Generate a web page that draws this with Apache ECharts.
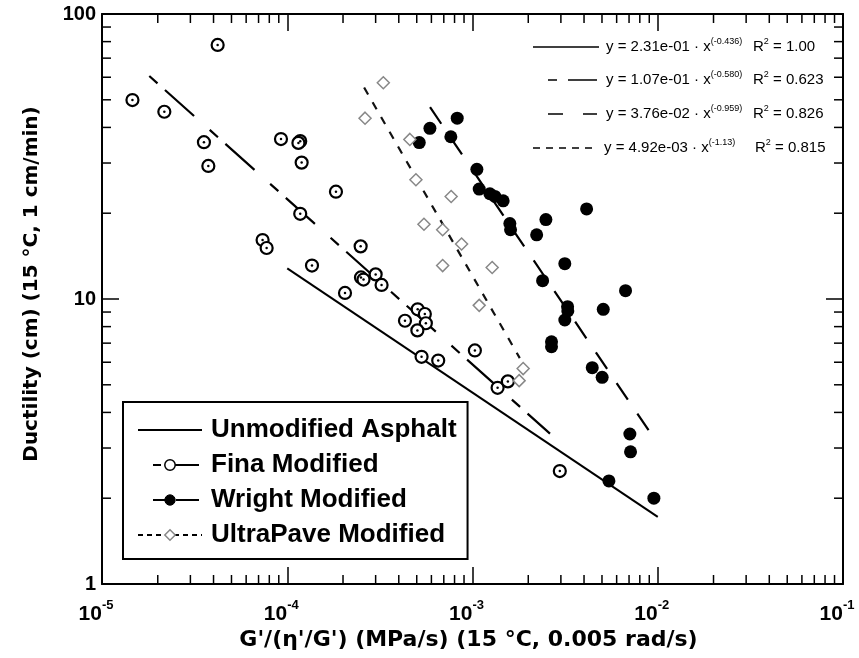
<!DOCTYPE html>
<html>
<head>
<meta charset="utf-8" />
<title>Ductility vs G'/(η'/G')</title>
<script src="https://cdn.jsdelivr.net/npm/echarts@6/dist/echarts.min.js"></script>
<style>
  html, body { margin: 0; padding: 0; background: #fff; }
  #chart { width: 859px; height: 658px; }
</style>
</head>
<body>
<div id="chart"></div>
<script type="text/javascript">
// ---- values ----
var finaX = [1.46e-5, 2.17e-5, 3.55e-5, 3.75e-5, 4.21e-5, 9.25e-5, 1.175e-4, 1.149e-4, 1.196e-4, 1.832e-4,
             1.175e-4, 7.36e-5, 7.74e-5, 1.36e-4, 2.49e-4, 2.50e-4, 2.58e-4, 3.00e-4, 3.23e-4, 2.05e-4,
             5.06e-4, 5.53e-4, 4.32e-4, 5.60e-4, 5.04e-4, 5.31e-4, 6.53e-4, 1.03e-3, 1.366e-3, 1.552e-3, 2.96e-3];
var finaY = [49.9, 45.4, 35.5, 29.3, 77.9, 36.4, 35.8, 35.3, 30.1, 23.8,
             19.9, 16.1, 15.1, 13.1, 15.3, 11.9, 11.7, 12.2, 11.2, 10.5,
             9.2, 8.86, 8.39, 8.22, 7.76, 6.27, 6.08, 6.60, 4.88, 5.14, 2.49];

var wrightX = [5.16e-4, 5.89e-4, 8.27e-4, 7.64e-4, 1.056e-3, 1.087e-3, 1.241e-3, 1.321e-3, 1.464e-3, 1.591e-3,
               1.605e-3, 2.22e-3, 2.49e-3, 4.13e-3, 3.15e-3, 2.39e-3, 3.26e-3, 3.27e-3, 3.15e-3, 5.08e-3,
               6.70e-3, 2.67e-3, 2.67e-3, 4.43e-3, 5.01e-3, 7.07e-3, 7.13e-3, 5.45e-3, 9.53e-3];
var wrightY = [35.4, 39.7, 43.1, 37.1, 28.5, 24.3, 23.4, 22.9, 22.1, 18.4,
               17.5, 16.8, 19.0, 20.7, 13.3, 11.6, 9.40, 9.08, 8.44, 9.20,
               10.7, 7.08, 6.80, 5.74, 5.31, 3.36, 2.91, 2.30, 2.00];

var ultraX = [3.30e-4, 2.63e-4, 4.59e-4, 4.95e-4, 7.67e-4, 5.47e-4, 6.90e-4, 8.73e-4, 6.90e-4, 1.277e-3,
              1.087e-3, 1.877e-3, 1.786e-3];
var ultraY = [57.4, 43.1, 36.3, 26.2, 22.9, 18.3, 17.5, 15.6, 13.1, 12.9,
              9.50, 5.70, 5.17];

// power-law fits, end points of each drawn line
var unmodFitX = [1e-4, 1e-2],     unmodFitY = [12.8, 1.72];
var finaFitX = [1.8e-5, 2.62e-3], finaFitY = [60.6, 3.37];
var wrightFitX = [5.9e-4, 9.5e-3], wrightFitY = [47.1, 3.26];
var ultraFitX = [2.6e-4, 1.8e-3], ultraFitY = [55.2, 6.2];

var seriesNames = ['Unmodified Asphalt', 'Fina Modified', 'Wright Modified', 'UltraPave Modified'];
var eqCoef = ['2.31e-01', '1.07e-01', '3.76e-02', '4.92e-03'];
var eqExp = ['(-0.436)', '(-0.580)', '(-0.959)', '(-1.13)'];
var eqR2 = ['1.00', '0.623', '0.826', '0.815'];

var xTitle = "G'/(\u03b7'/G') (MPa/s) (15 \u00b0C, 0.005 rad/s)";
var yTitle = 'Ductility (cm) (15 \u00b0C, 1 cm/min)';

function zip(xs, ys) {
  return xs.map(function (x, i) { return [x, ys[i]]; });
}

// minor tick positions (2..9 in every decade)
var minorX = [], minorY = [];
for (var e = -5; e < -1; e++) for (var m = 2; m < 10; m++) minorX.push([m * Math.pow(10, e), 1]);
for (var e2 = 0; e2 < 2; e2++) for (var m2 = 2; m2 < 10; m2++) minorY.push([1e-5, m2 * Math.pow(10, e2)]);

var chart = echarts.init(document.getElementById('chart'));

var tickLine = { color: '#000', width: 1.5 };
var axisLineStyle = { color: '#000', width: 2 };

function tickSeg(x1, y1, x2, y2) {
  return { type: 'line', shape: { x1: x1, y1: y1, x2: x2, y2: y2 }, style: { stroke: '#000', lineWidth: 1.5 } };
}

// equation key, top right
var eqRowY = [47, 80, 114, 148];
var eqSamples = [
  { x1: 533, x2: 599, dash: null },
  { x1: 548, x2: 597, dash: [9, 11, 29, 40] },
  { x1: 548, x2: 597, dash: [15, 20, 14, 40] },
  { x1: 533, x2: 598, dash: [7, 6] }
];
var eqRich = {
  t: { fontSize: 15, fontFamily: 'Liberation Sans', fill: '#000', lineHeight: 19 },
  s: { fontSize: 9, fontFamily: 'Liberation Sans', fill: '#000', lineHeight: 9, verticalAlign: 'top' }
};
var graphics = [];
eqRowY.forEach(function (y, i) {
  graphics.push({
    type: 'line', silent: true,
    shape: { x1: eqSamples[i].x1, y1: y, x2: eqSamples[i].x2, y2: y },
    style: { stroke: '#000', lineWidth: 1.5, lineDash: eqSamples[i].dash }
  });
  graphics.push({
    type: 'text', silent: true, x: i === 3 ? 604 : 606, y: y,
    style: { text: '{t|y = ' + eqCoef[i] + ' \u00b7 x}{s|' + eqExp[i] + '}', rich: eqRich, verticalAlign: 'middle' }
  });
  graphics.push({
    type: 'text', silent: true, x: i === 3 ? 755 : 753, y: y,
    style: { text: '{t|R}{s|2}{t| = ' + eqR2[i] + '}', rich: eqRich, verticalAlign: 'middle' }
  });
});

var option = {
  animation: false,
  backgroundColor: '#fff',
  grid: { left: 102, right: 16, top: 14, bottom: 74 },
  xAxis: [{
    type: 'log', logBase: 10, min: 1e-5, max: 0.1, position: 'bottom',
    axisLine: { onZero: false, lineStyle: axisLineStyle },
    axisTick: { inside: true, length: 17, lineStyle: tickLine },
    splitLine: { show: false },
    axisLabel: {
      margin: 15, padding: [0, 12, 0, 0], showMinLabel: true, showMaxLabel: true,
      formatter: function (v) { return '{b|10}{s|' + Math.round(Math.log(v) / Math.LN10) + '}'; },
      rich: {
        b: { fontSize: 21, fontWeight: 'bold', fontFamily: 'Liberation Sans', color: '#000', lineHeight: 30 },
        s: { fontSize: 13, fontWeight: 'bold', fontFamily: 'Liberation Sans', color: '#000', lineHeight: 13, verticalAlign: 'top' }
      }
    },
    name: xTitle, nameLocation: 'middle', nameGap: 42,
    nameTextStyle: { fontSize: 22, fontWeight: 'bold', fontFamily: 'DejaVu Sans', color: '#000', padding: [0, 8, 0, 0] }
  }, {
    type: 'log', logBase: 10, min: 1e-5, max: 0.1, position: 'top',
    axisLine: { onZero: false, lineStyle: axisLineStyle },
    axisTick: { inside: true, length: 17, lineStyle: tickLine },
    splitLine: { show: false }, axisLabel: { show: false }
  }],
  yAxis: [{
    type: 'log', logBase: 10, min: 1, max: 100, position: 'left',
    axisLine: { onZero: false, lineStyle: axisLineStyle },
    axisTick: { inside: true, length: 17, lineStyle: tickLine },
    splitLine: { show: false },
    axisLabel: {
      margin: 6, fontSize: 20, fontWeight: 'bold', fontFamily: 'Liberation Sans', color: '#000',
      showMinLabel: true, showMaxLabel: true,
      formatter: function (v) { return String(Math.round(v)); }
    },
    name: yTitle, nameLocation: 'middle', nameGap: 60, nameRotate: 90,
    nameTextStyle: { fontSize: 20, fontWeight: 'bold', fontFamily: 'DejaVu Sans', color: '#000', padding: [0, 0, 0, 30] }
  }, {
    type: 'log', logBase: 10, min: 1, max: 100, position: 'right',
    axisLine: { onZero: false, lineStyle: axisLineStyle },
    axisTick: { inside: true, length: 17, lineStyle: tickLine },
    splitLine: { show: false }, axisLabel: { show: false }
  }],
  legend: {
    orient: 'vertical', left: 123, top: 402,
    padding: [15, 11, 11, 14],
    itemWidth: 64, itemHeight: 13, itemGap: 9,
    borderColor: '#000', borderWidth: 2, backgroundColor: '#fff',
    selectedMode: false,
    textStyle: { fontSize: 26, fontWeight: 'bold', fontFamily: 'Liberation Sans', color: '#000', padding: [0, 0, 0, 4] },
    data: [
      { name: seriesNames[0], itemStyle: { opacity: 0 }, lineStyle: { color: '#000', width: 2, type: 'solid' } },
      { name: seriesNames[1], itemStyle: { color: '#fff', borderColor: '#000', borderWidth: 1.5, opacity: 1 },
        lineStyle: { color: '#000', width: 2, type: [0, 15, 8, 13, 25, 10] } },
      { name: seriesNames[2], itemStyle: { color: '#000', borderColor: '#000', borderWidth: 1, opacity: 1 },
        lineStyle: { color: '#000', width: 2, type: [0, 15, 12, 11, 23, 10] } },
      { name: seriesNames[3], itemStyle: { color: '#fff', borderColor: '#888', borderWidth: 1.5, opacity: 1 },
        lineStyle: { color: '#000', width: 2, type: [5, 4] } }
    ]
  },
  graphic: graphics,
  series: [
    {
      name: seriesNames[0], type: 'line', data: zip(unmodFitX, unmodFitY),
      symbol: 'circle', showSymbol: false, silent: true, z: 2,
      itemStyle: { color: '#000' }, lineStyle: { color: '#000', width: 2 }
    },
    {
      name: seriesNames[1], type: 'line', data: zip(finaFitX, finaFitY),
      symbol: 'circle', showSymbol: false, silent: true, z: 2,
      itemStyle: { color: '#fff', borderColor: '#000' },
      lineStyle: { color: '#000', width: 2.2, type: [11, 10, 39, 21] }
    },
    {
      name: seriesNames[2], type: 'line', data: zip(wrightFitX, wrightFitY),
      symbol: 'circle', showSymbol: false, silent: true, z: 2,
      itemStyle: { color: '#000' },
      lineStyle: { color: '#000', width: 2.2, type: [20, 17] }
    },
    {
      name: seriesNames[3], type: 'line', data: zip(ultraFitX, ultraFitY),
      symbol: 'diamond', showSymbol: false, silent: true, z: 2,
      itemStyle: { color: '#fff', borderColor: '#888' },
      lineStyle: { color: '#111', width: 2.2, type: [8, 9] }
    },
    {
      name: 'Fina data', type: 'scatter', data: zip(finaX, finaY), z: 3,
      symbol: 'circle', symbolSize: 12,
      itemStyle: { color: '#fff', borderColor: '#000', borderWidth: 2.2, opacity: 1 }
    },
    {
      name: 'Fina data centre', type: 'scatter', data: zip(finaX, finaY), z: 4, silent: true,
      symbol: 'circle', symbolSize: 2.5, itemStyle: { color: '#000', opacity: 1 }
    },
    {
      name: 'Wright data', type: 'scatter', data: zip(wrightX, wrightY), z: 3,
      symbol: 'circle', symbolSize: 13, itemStyle: { color: '#000', opacity: 1 }
    },
    {
      name: 'UltraPave data', type: 'scatter', data: zip(ultraX, ultraY), z: 3,
      symbol: 'diamond', symbolSize: 12,
      itemStyle: { color: '#fff', borderColor: '#888', borderWidth: 1.5, opacity: 1 }
    },
    {
      name: 'minor x ticks', type: 'custom', data: minorX, silent: true, clip: false, z: 1,
      renderItem: function (params, api) {
        var b = api.coord([api.value(0), 1]);
        var t = api.coord([api.value(0), 100]);
        return { type: 'group', children: [tickSeg(b[0], b[1], b[0], b[1] - 9), tickSeg(t[0], t[1], t[0], t[1] + 9)] };
      }
    },
    {
      name: 'minor y ticks', type: 'custom', data: minorY, silent: true, clip: false, z: 1,
      renderItem: function (params, api) {
        var l = api.coord([1e-5, api.value(1)]);
        var r = api.coord([0.1, api.value(1)]);
        return { type: 'group', children: [tickSeg(l[0], l[1], l[0] + 9, l[1]), tickSeg(r[0], r[1], r[0] - 9, r[1])] };
      }
    }
  ]
};

chart.setOption(option);
</script>
</body>
</html>
